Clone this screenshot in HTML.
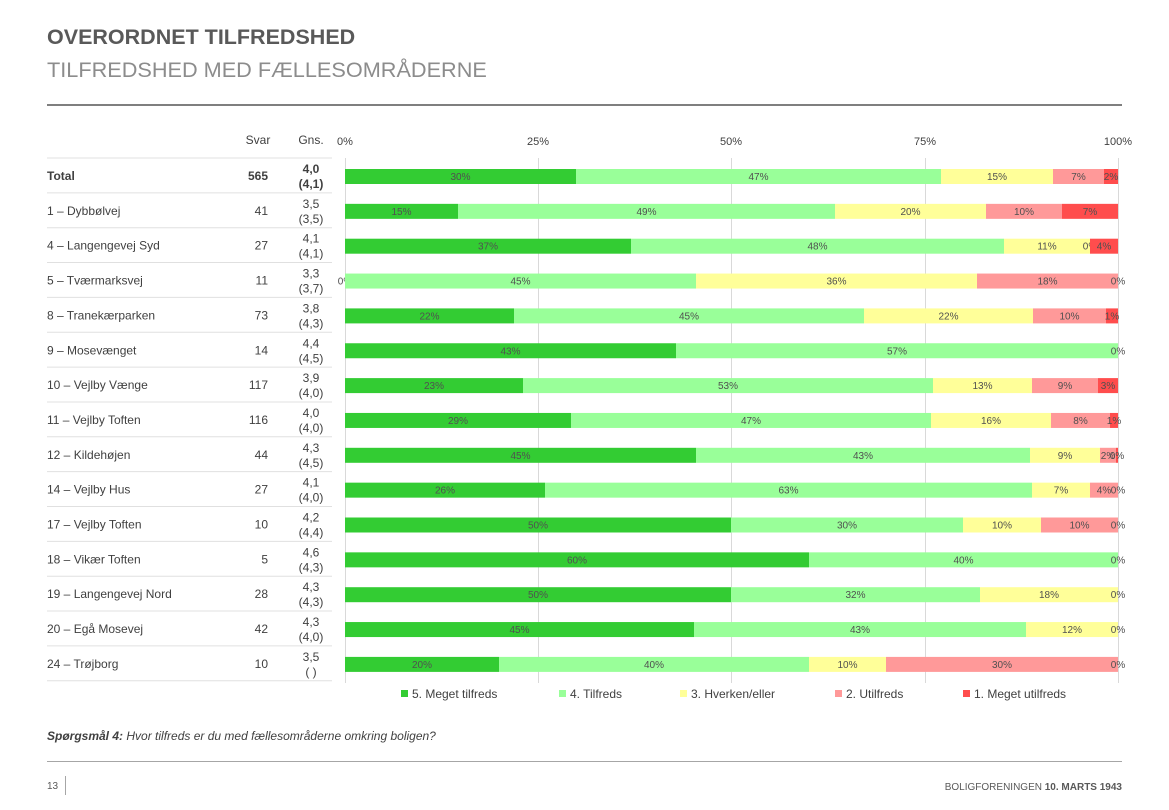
<!DOCTYPE html>
<html><head><meta charset="utf-8"><style>
body{margin:0;width:1169px;height:810px;background:#fff;font-family:"Liberation Sans",sans-serif;position:relative;overflow:hidden;color:#404040}
.a{position:absolute;white-space:nowrap}
</style></head><body>
<div class="a" style="left:47px;top:25px;font-size:21.5px;font-weight:bold;color:#595959">OVERORDNET TILFREDSHED</div>
<div class="a" style="left:47px;top:57px;font-size:21.7px;color:#8c8c8c">TILFREDSHED MED FÆLLESOMRÅDERNE</div>
<div class="a" style="left:47px;top:104px;width:1075px;height:2px;background:#7f7f7f"></div>
<svg class="a" style="left:0;top:0" width="1169" height="810" font-family="Liberation Sans, sans-serif">
<g font-size="12" fill="#404040">
<text x="258" y="144" text-anchor="middle">Svar</text>
<text x="311" y="144" text-anchor="middle">Gns.</text>
<text x="345" y="145" text-anchor="middle" font-size="11">0%</text>
<text x="538" y="145" text-anchor="middle" font-size="11">25%</text>
<text x="731" y="145" text-anchor="middle" font-size="11">50%</text>
<text x="925" y="145" text-anchor="middle" font-size="11">75%</text>
<text x="1118" y="145" text-anchor="middle" font-size="11">100%</text>
</g>
<g stroke="#d9d9d9" stroke-width="1">
<line x1="345.5" y1="158" x2="345.5" y2="683"/><line x1="538.5" y1="158" x2="538.5" y2="683"/><line x1="731.5" y1="158" x2="731.5" y2="683"/><line x1="925.5" y1="158" x2="925.5" y2="683"/><line x1="1118.5" y1="158" x2="1118.5" y2="683"/>
</g>
<g id="rows"></g>
<g font-size="12" fill="#404040">
<rect x="401" y="690" width="7" height="7" fill="#33cc33"/><text x="412" y="698">5. Meget tilfreds</text>
<rect x="559" y="690" width="7" height="7" fill="#99ff99"/><text x="570" y="698">4. Tilfreds</text>
<rect x="680" y="690" width="7" height="7" fill="#ffff99"/><text x="691" y="698">3. Hverken/eller</text>
<rect x="835" y="690" width="7" height="7" fill="#ff9999"/><text x="846" y="698">2. Utilfreds</text>
<rect x="963" y="690" width="7" height="7" fill="#ff4d4d"/><text x="974" y="698">1. Meget utilfreds</text>
</g>
<text x="47" y="740" font-size="12" font-style="italic" fill="#404040"><tspan font-weight="bold">Spørgsmål 4:</tspan> Hvor tilfreds er du med fællesområderne omkring boligen?</text>
<line x1="47" y1="761.5" x2="1122" y2="761.5" stroke="#a6a6a6"/>
<text x="47" y="789" font-size="10" fill="#595959">13</text>
<line x1="65.5" y1="776" x2="65.5" y2="795" stroke="#a6a6a6"/>
<text x="1122" y="790" font-size="10" fill="#595959" text-anchor="end">BOLIGFORENINGEN <tspan font-weight="bold">10. MARTS 1943</tspan></text>
</svg>
<script>
var C=["#33cc33","#99ff99","#ffff99","#ff9999","#ff4d4d"];
var R=[
["Total","565","4,0","(4,1)",[345,576,941,1053,1104,1118],["30%","47%","15%","7%","2%"],1],
["1 – Dybbølvej","41","3,5","(3,5)",[345,458,835,986,1062,1118],["15%","49%","20%","10%","7%"]],
["4 – Langengevej Syd","27","4,1","(4,1)",[345,631,1004,1090,1090,1118],["37%","48%","11%","0%","4%"]],
["5 – Tværmarksvej","11","3,3","(3,7)",[345,345,696,977,1118,1118],["0%","45%","36%","18%","0%"]],
["8 – Tranekærparken","73","3,8","(4,3)",[345,514,864,1033,1106,1118],["22%","45%","22%","10%","1%"]],
["9 – Mosevænget","14","4,4","(4,5)",[345,676,1118,1118,1118,1118],["43%","57%","","","0%"]],
["10 – Vejlby Vænge","117","3,9","(4,0)",[345,523,933,1032,1098,1118],["23%","53%","13%","9%","3%"]],
["11 – Vejlby Toften","116","4,0","(4,0)",[345,571,931,1051,1110,1118],["29%","47%","16%","8%","1%"]],
["12 – Kildehøjen","44","4,3","(4,5)",[345,696,1030,1100,1116,1118],["45%","43%","9%","2%","0%"]],
["14 – Vejlby Hus","27","4,1","(4,0)",[345,545,1032,1090,1118,1118],["26%","63%","7%","4%","0%"]],
["17 – Vejlby Toften","10","4,2","(4,4)",[345,731,963,1041,1118,1118],["50%","30%","10%","10%","0%"]],
["18 – Vikær Toften","5","4,6","(4,3)",[345,809,1118,1118,1118,1118],["60%","40%","","","0%"]],
["19 – Langengevej Nord","28","4,3","(4,3)",[345,731,980,1118,1118,1118],["50%","32%","18%","","0%"]],
["20 – Egå Mosevej","42","4,3","(4,0)",[345,694,1026,1118,1118,1118],["45%","43%","12%","","0%"]],
["24 – Trøjborg","10","3,5","( )",[345,499,809,886,1118,1118],["20%","40%","10%","30%","0%"]]
];
var s="";
R.forEach(function(r,i){
 var cy=176+i*34.85, top=cy-18;
 s+='<line x1="47" y1="'+(top)+'" x2="332" y2="'+top+'" stroke="#e0e0e0"/>';
 var b=r[6]?' font-weight="bold"':'';
 s+='<text x="47" y="'+(cy+4)+'" font-size="12" fill="#404040"'+b+'>'+r[0]+'</text>';
 s+='<text x="268" y="'+(cy+4)+'" font-size="12" fill="#404040" text-anchor="end"'+b+'>'+r[1]+'</text>';
 s+='<text x="311" y="'+(cy-3)+'" font-size="12" fill="#404040" text-anchor="middle"'+b+'>'+r[2]+'</text>';
 s+='<text x="311" y="'+(cy+12)+'" font-size="12" fill="#404040" text-anchor="middle"'+b+'>'+r[3]+'</text>';
 var x=r[4];
 for(var k=0;k<5;k++){
  var w=x[k+1]-x[k];
  if(w>0)s+='<rect x="'+x[k]+'" y="'+(cy-7)+'" width="'+w+'" height="15" fill="'+C[k]+'"/>';
  if(r[5][k]){var tx=w>0?(x[k]+x[k+1])/2:x[k];
   if(w<=0&&k==4)tx=1118; if(w<=0&&k==0)tx=345;
   s+='<text x="'+tx+'" y="'+(cy+4)+'" font-size="10" fill="#505050" text-anchor="middle">'+r[5][k]+'</text>';}
 }
});
s+='<line x1="47" y1="'+(176+15*34.85-18)+'" x2="332" y2="'+(176+15*34.85-18)+'" stroke="#e0e0e0"/>';
document.getElementById("rows").innerHTML=s;
</script>
</body></html>
